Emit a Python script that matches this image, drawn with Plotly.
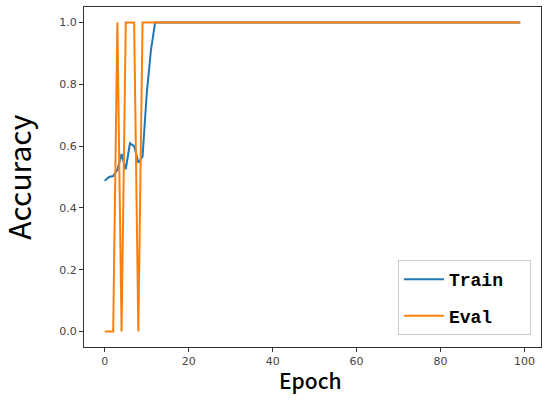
import plotly.graph_objects as go

# Epoch index and accuracy curves
epochs = list(range(100))
train_acc = [0.488, 0.50, 0.503, 0.523, 0.574, 0.525, 0.609, 0.60, 0.546, 0.566,
             0.77, 0.91, 1.0] + [1.0] * 87
eval_acc = [0.0, 0.0, 0.0, 1.0, 0.0, 1.0, 1.0, 1.0, 0.0, 1.0] + [1.0] * 90

x_ticks = [0, 20, 40, 60, 80, 100]
y_ticks = [0.0, 0.2, 0.4, 0.6, 0.8, 1.0]

fig = go.Figure()
# trailing nbsp pads the legend box to the reference width
fig.add_trace(go.Scatter(x=epochs, y=train_acc, mode="lines", name="Train&nbsp;&nbsp;",
                         legendgroup="train",
                         line=dict(color="#1f77b4", width=2)))
fig.add_trace(go.Scatter(x=epochs, y=eval_acc, mode="lines", name="Eval",
                         legendgroup="eval",
                         line=dict(color="#ff7f0e", width=2)))

axis_style = dict(
    showline=True, mirror=True, linecolor="#333333", linewidth=1,
    ticks="outside", ticklen=4, tickcolor="#333333",
    showgrid=False, zeroline=False,
    tickfont=dict(family="DejaVu Sans", size=11, color="#444444"),
)

fig.update_layout(
    width=550, height=402,
    margin=dict(l=84, r=9, t=7, b=55, autoexpand=False),
    paper_bgcolor="white", plot_bgcolor="white",
    xaxis=dict(range=[-4.95, 103.95], tickvals=x_ticks, **axis_style),
    yaxis=dict(range=[-0.05, 1.05], tickvals=y_ticks, tickformat=".1f", **axis_style),
    legend=dict(
        x=0.978, y=0.035, xanchor="right", yanchor="bottom",
        bgcolor="white", bordercolor="#cccccc", borderwidth=1,
        font=dict(family="Liberation Mono", size=18, color="black", weight="bold"),
        itemwidth=40, traceorder="grouped", tracegroupgap=10,
    ),
    annotations=[
        dict(text="Epoch", xref="paper", yref="paper", x=0.496, y=-0.097,
             xanchor="center", yanchor="middle", showarrow=False,
             font=dict(family="Noto Sans CJK SC", size=21, color="black", weight=500)),
        dict(text="Accuracy", xref="paper", yref="paper", x=-0.145, y=0.5,
             xanchor="center", yanchor="middle", showarrow=False, textangle=-90,
             font=dict(family="Noto Sans CJK SC", size=30, color="black", weight=400)),
    ],
)

# drop the default body margin so the figure sits at the window's top-left
fig.write_html("out.html", config={"displayModeBar": False},
               post_script="document.body.style.margin='0';")
